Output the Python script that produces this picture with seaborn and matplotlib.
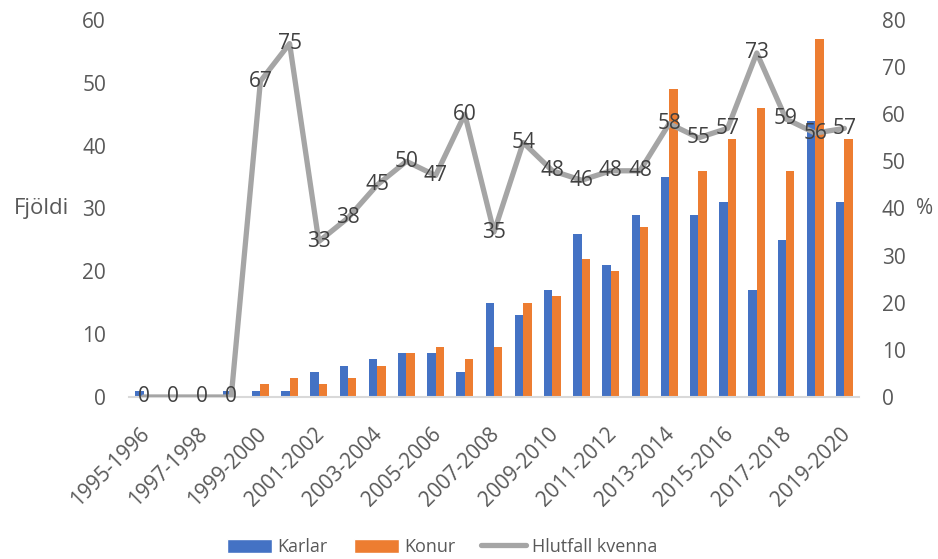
import numpy as np
import pandas as pd
import matplotlib
matplotlib.use("Agg")
import matplotlib.pyplot as plt
import matplotlib.transforms as mtransforms
import seaborn as sns
from matplotlib.patches import Patch
from matplotlib.lines import Line2D

seasons = [f"{y}-{y+1}" for y in range(1995, 2020)]
karlar = [1, 0, 0, 1, 1, 1, 4, 5, 6, 7, 7, 4, 15, 13, 17, 26, 21, 29, 35, 29, 31, 17, 25, 44, 31]
konur = [0, 0, 0, 0, 2, 3, 2, 3, 5, 7, 8, 6, 8, 15, 16, 22, 20, 27, 49, 36, 41, 46, 36, 57, 41]
hlutfall = [0, 0, 0, 0, 67, 75, 33, 38, 45, 50, 47, 60, 35, 54, 48, 46, 48, 48, 58, 55, 57, 73, 59, 56, 57]
left_ticks = [0, 10, 20, 30, 40, 50, 60]
right_ticks = [0, 10, 20, 30, 40, 50, 60, 70, 80]

sns.set_theme(style="white")
plt.rcParams['font.family'] = ['Open Sans', 'DejaVu Sans']

BLUE = "#4472C4"
ORANGE = "#ED7D31"
GRAY = "#A5A5A5"
TXT = "#595959"
LBL = "#404040"
FS = 15

df = pd.DataFrame({
    "season": seasons * 2,
    "value": karlar + konur,
    "kyn": ["Karlar"] * len(seasons) + ["Konur"] * len(seasons),
})

fig = plt.figure(figsize=(9.38, 5.59), dpi=100)
ax = fig.add_axes([129/938, 1-397/559, (859-129)/938, (397-20)/559])
sns.barplot(data=df, x="season", y="value", hue="kyn", order=seasons,
            palette=[BLUE, ORANGE], width=0.57, gap=0, ax=ax, legend=False,
            saturation=1, edgecolor="none")
ax.set_xlim(-0.5, len(seasons) - 0.5)
ax.set_ylim(0, 60)
ax.set_yticks(left_ticks)
ax.set_yticklabels([str(t) for t in left_ticks])
ax.set_xticks(range(0, len(seasons), 2))
ax.set_xticklabels(seasons[::2], rotation=45, ha="right", rotation_mode="anchor")
ax.tick_params(axis="both", length=0, labelsize=FS, labelcolor=TXT)
ax.tick_params(axis="x", pad=19)
ax.tick_params(axis="y", pad=16.5)
shift = mtransforms.ScaledTranslation(-5/100, 0, fig.dpi_scale_trans)
for lab in ax.get_xticklabels():
    lab.set_transform(lab.get_transform() + shift)
ax.set_xlabel("")
ax.set_ylabel("Fjöldi", rotation=0, fontsize=16, color=TXT, va="center")
ax.yaxis.set_label_coords(-0.12, 0.5)
for s in ["top", "right", "left"]:
    ax.spines[s].set_visible(False)
ax.spines["bottom"].set_color("#D9D9D9")
ax.spines["bottom"].set_linewidth(1.5)

ax2 = ax.twinx()
sns.lineplot(x=np.arange(len(seasons)), y=hlutfall, color=GRAY, linewidth=3.8, ax=ax2)
ax2.set_ylim(0, 80)
ax2.set_yticks(right_ticks)
ax2.set_yticklabels([str(t) for t in right_ticks])
ax2.tick_params(axis="y", length=0, labelsize=FS, labelcolor=TXT, pad=16.5)
ax2.set_ylabel("%", rotation=0, fontsize=FS, color=TXT, va="center")
ax2.yaxis.set_label_coords(1.09, 0.5)
for s in ["top", "right", "left", "bottom"]:
    ax2.spines[s].set_visible(False)
ax2.set_xlim(-0.5, len(seasons) - 0.5)

for i, v in enumerate(hlutfall):
    ax2.text(i, v, str(v), ha="center", va="center", fontsize=FS, color=LBL)

handles = [Patch(facecolor=BLUE, label="Karlar"),
           Patch(facecolor=ORANGE, label="Konur"),
           Line2D([0], [0], color=GRAY, linewidth=3.8, label="Hlutfall kvenna")]
fig.legend(handles=handles, loc="center", bbox_to_anchor=(442/938, 1-547/559),
           ncol=3, frameon=False, fontsize=13, labelcolor=TXT,
           handlelength=2.5, handleheight=0.8, columnspacing=1.45, handletextpad=0.28)

fig.savefig("out.png", dpi=100)
